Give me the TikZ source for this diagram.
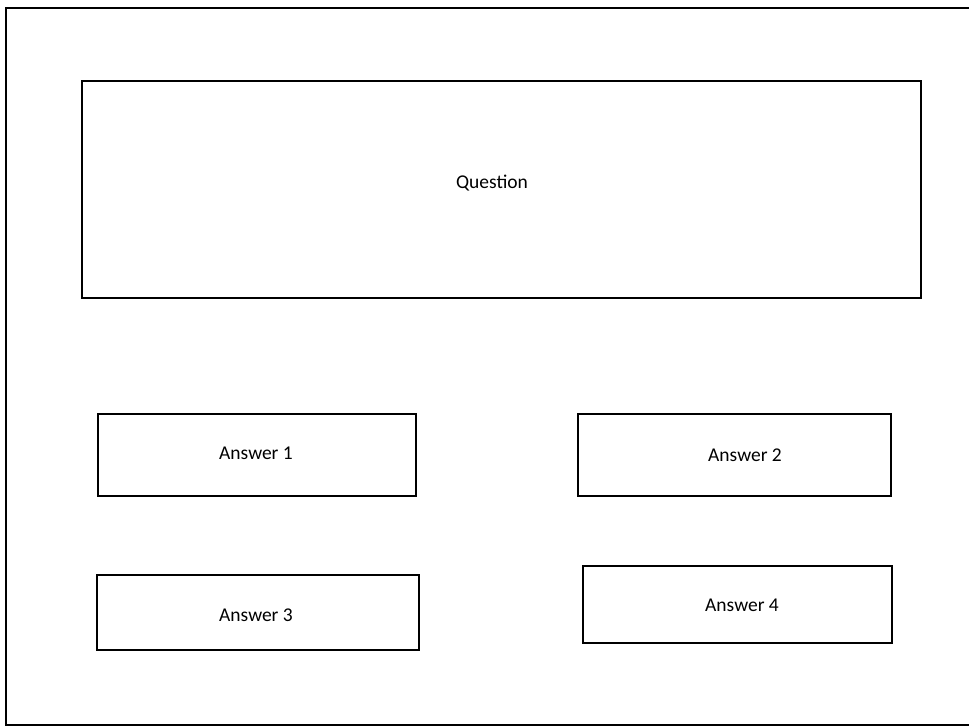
\documentclass[tikz,border=0pt]{standalone}
\usepackage{fontspec}
\setmainfont{Carlito}
\usepackage{tikz}
\usetikzlibrary{positioning}

\begin{document}
\begin{tikzpicture}[x=1pt, y=-1pt,
    box/.style={draw, line width=2pt, rectangle, inner sep=0pt},
    lbl/.style={font=\fontsize{19.5}{23}\selectfont, inner sep=0pt}]
  \useasboundingbox (0,0) rectangle (969,727);

  % Page frame (right edge runs off the page)
  \draw[line width=2pt] (975,8) -- (6,8) -- (6,725) -- (975,725);

  % Question box
  \node[box, minimum width=839pt, minimum height=217pt] (qbox) at (501.5,189.5) {};
  \node[lbl] (qtext) at (492,183) {Question};

  % Answer boxes
  \node[box, minimum width=318pt, minimum height=82pt] (abox1) at (257,455) {};
  \node[lbl] (atext1) at (256,453) {Answer 1};

  \node[box, minimum width=313pt, minimum height=82pt] (abox2) at (734.5,455) {};
  \node[lbl] (atext2) at (745,455) {Answer 2};

  \node[box, minimum width=322pt, minimum height=75pt] (abox3) at (258,612.5) {};
  \node[lbl] (atext3) at (256,615) {Answer 3};

  \node[box, minimum width=309pt, minimum height=77pt] (abox4) at (737.5,604.5) {};
  \node[lbl] (atext4) at (742,605) {Answer 4};
\end{tikzpicture}
\end{document}
